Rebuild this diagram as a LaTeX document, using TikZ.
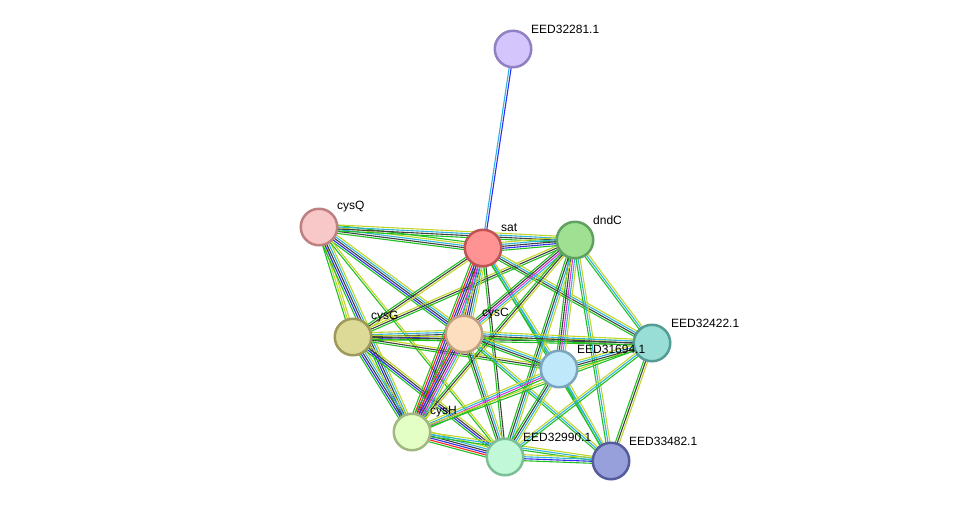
\documentclass[tikz,border=0pt]{standalone}
\usepackage{fontspec}
\setmainfont{Liberation Sans}
\usetikzlibrary{calc}
\pgfdeclarelayer{bg}
\pgfsetlayers{bg,main}
\definecolor{G}{HTML}{22C022}
\definecolor{Y}{HTML}{C2D62A}
\definecolor{C}{HTML}{30B4DC}
\definecolor{K}{HTML}{404040}
\definecolor{B}{HTML}{2E2EF0}
\definecolor{R}{HTML}{FF2424}
\definecolor{M}{HTML}{E030E0}
\tikzset{
  prot/.style={circle, minimum size=36.5pt, inner sep=0pt, line width=2.5pt},
  lbl/.style={anchor=west, inner sep=0pt, font=\fontsize{12}{14}\selectfont},
  edgeline/.style={line width=1.1pt},
}
\newcommand\bund[3]{%
  \foreach \cc [count=\nn] in {#3} {\xdef\bn{\nn}}%
  \foreach \cc [count=\ii] in {#3} {%
    \pgfmathsetmacro\oo{(\ii-(\bn+1)/2)*2.0}%
    \draw[edgeline,\cc] ($(#1)!\oo pt!90:(#2)$) -- ($(#2)!\oo pt!-90:(#1)$);
  }}
\begin{document}
\begin{tikzpicture}[x=1pt,y=-1pt]
\useasboundingbox (0,0) rectangle (976,507);
% proteins
\node[prot, fill={rgb,255:red,212;green,198;blue,252}, draw={rgb,255:red,146;green,128;blue,196}] (p32281) at (513,49) {};
\node[prot, fill={rgb,255:red,255;green,146;blue,146}, draw={rgb,255:red,190;green,84;blue,84}] (sat) at (483,248) {};
\node[prot, fill={rgb,255:red,160;green,224;blue,146}, draw={rgb,255:red,96;green,160;blue,96}] (dndC) at (575,240) {};
\node[prot, fill={rgb,255:red,248;green,200;blue,200}, draw={rgb,255:red,190;green,128;blue,128}] (cysQ) at (319,227) {};
\node[prot, fill={rgb,255:red,220;green,218;blue,150}, draw={rgb,255:red,158;green,152;blue,90}] (cysG) at (353,337) {};
\node[prot, fill={rgb,255:red,253;green,223;blue,192}, draw={rgb,255:red,192;green,160;blue,128}] (cysC) at (464,334) {};
\node[prot, fill={rgb,255:red,152;green,222;blue,214}, draw={rgb,255:red,84;green,156;blue,148}] (p32422) at (652,343) {};
\node[prot, fill={rgb,255:red,192;green,232;blue,251}, draw={rgb,255:red,124;green,164;blue,188}] (p31694) at (559,369) {};
\node[prot, fill={rgb,255:red,228;green,255;blue,198}, draw={rgb,255:red,160;green,184;blue,128}] (cysH) at (412,432) {};
\node[prot, fill={rgb,255:red,192;green,248;blue,216}, draw={rgb,255:red,124;green,190;blue,150}] (p32990) at (505,457) {};
\node[prot, fill={rgb,255:red,152;green,160;blue,220}, draw={rgb,255:red,84;green,92;blue,156}] (p33482) at (611,461) {};
% labels
\node[lbl] (l32281) at ($(p32281)+(18,-20)$) {EED32281.1};
\node[lbl] (lsat) at ($(sat)+(18,-20)$) {sat};
\node[lbl] (ldndC) at ($(dndC)+(18,-20)$) {dndC};
\node[lbl] (lcysQ) at ($(cysQ)+(18,-20)$) {cysQ};
\node[lbl] (lcysG) at ($(cysG)+(18,-20)$) {cysG};
\node[lbl] (lcysC) at ($(cysC)+(18,-20)$) {cysC};
\node[lbl] (l32422) at ($(p32422)+(19,-20)$) {EED32422.1};
\node[lbl] (l31694) at ($(p31694)+(18,-20)$) {EED31694.1};
\node[lbl] (lcysH) at ($(cysH)+(18,-20)$) {cysH};
\node[lbl] (l32990) at ($(p32990)+(18,-20)$) {EED32990.1};
\node[lbl] (l33482) at ($(p33482)+(18,-20)$) {EED33482.1};
% edges
\begin{pgfonlayer}{bg}
\bund{sat}{p32281}{B,C}
\bund{cysQ}{sat}{G,K,C,Y,G}
\bund{cysQ}{dndC}{G,K,C,Y}
\bund{cysQ}{cysG}{G,Y,Y}
\bund{cysQ}{cysH}{G,B,K,C,Y}
\bund{cysQ}{cysC}{G,B,K,C,Y}
\bund{cysQ}{p32990}{G,Y}
\bund{cysG}{sat}{Y,K,G}
\bund{cysG}{dndC}{G,K,Y}
\bund{cysG}{cysC}{G,B,K,C,Y}
\bund{cysG}{cysH}{G,B,K,C,Y}
\bund{cysG}{p32990}{G,B,K,Y}
\bund{cysG}{p31694}{G,K,Y}
\bund{cysG}{p32422}{G,K,Y}
\bund{sat}{dndC}{G,B,K,C,Y}
\bund{sat}{cysC}{G,R,B,K,C,Y}
\bund{sat}{cysH}{G,R,B,K,M,C,Y}
\bund{sat}{p32990}{G,K}
\bund{sat}{p31694}{G,C,Y}
\bund{sat}{p32422}{G,K,C,Y}
\bund{sat}{p33482}{G,C}
\bund{dndC}{cysC}{G,K,M,C,Y}
\bund{dndC}{cysH}{G,K,Y}
\bund{dndC}{p31694}{G,K,M,C,Y}
\bund{dndC}{p32990}{G,K,C,Y}
\bund{dndC}{p32422}{G,C,Y}
\bund{dndC}{p33482}{G,C,Y}
\bund{cysC}{cysH}{G,R,B,K,M,C,Y}
\bund{cysC}{p32990}{G,K,C,Y}
\bund{cysC}{p31694}{G,K,C,Y}
\bund{cysC}{p32422}{G,K,C,Y}
\bund{cysC}{p33482}{G,C,Y}
\bund{cysH}{p31694}{G,M,C,Y}
\bund{cysH}{p32990}{G,R,B,K,C,Y}
\bund{cysH}{p33482}{G,C,Y}
\bund{cysH}{p32422}{G,Y}
\bund{p31694}{p32422}{G,K,C,Y}
\bund{p31694}{p32990}{G,K,C,Y}
\bund{p31694}{p33482}{G,C,Y}
\bund{p32990}{p33482}{G,B,C,Y}
\bund{p32990}{p32422}{G,C,Y}
\bund{p32422}{p33482}{G,K,Y}
\end{pgfonlayer}
\end{tikzpicture}
\end{document}
